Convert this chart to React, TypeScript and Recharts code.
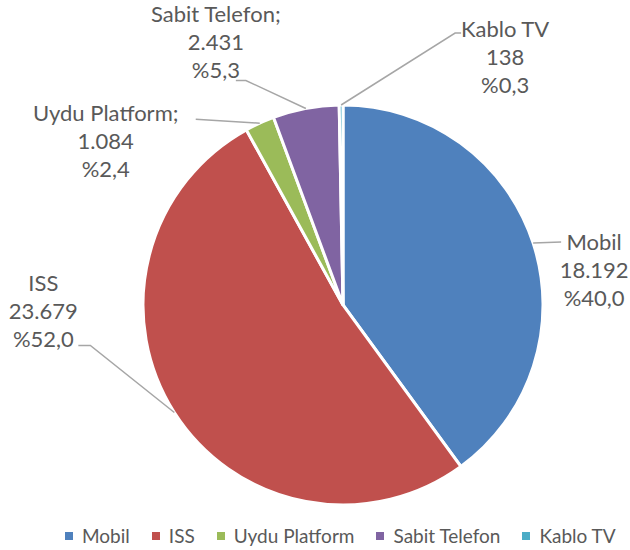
import React from 'react';
import { PieChart, Pie, Cell, Legend } from 'recharts';

const categories = ['Mobil', 'ISS', 'Uydu Platform', 'Sabit Telefon', 'Kablo TV'];
const labelNames = ['Mobil', 'ISS', 'Uydu Platform;', 'Sabit Telefon;', 'Kablo TV'];
const values = [18192, 23679, 1084, 2431, 138];
const colors = ['#4F81BD', '#C0504D', '#9BBB59', '#8064A2', '#4BACC6'];

// label layout: offsets from slice edge point (style only)
const labelLayout = [
  { tx: 61, ty: -1, leader: [[28, -1]] },
  { tx: -131, ty: -130, leader: [[-84, -67], [-96, -67]] },
  { tx: -154, ty: -11, leader: [[-64, -4]] },
  { tx: -90, ty: -95, leader: [[-60, -28], [-70, -28]] },
  { tx: 164, ty: -77, leader: [[114, -72], [120, -72]] },
];

const data = categories.map((name, i) => ({ name, value: values[i], label: labelNames[i] }));

const FONT = 'Lato, "Open Sans", sans-serif';
const TEXT = '#595959';
const RAD = Math.PI / 180;

const fmt = (v: number) => String(v).replace(/\B(?=(\d{3})+(?!\d))/g, '.');

const renderLabel = (props: any) => {
  const { cx, cy, midAngle, outerRadius, index, percent, value } = props;
  const ex = cx + outerRadius * Math.cos(-midAngle * RAD);
  const ey = cy + outerRadius * Math.sin(-midAngle * RAD);
  const lay = labelLayout[index];
  const pts = [[ex, ey], ...lay.leader.map(([dx, dy]) => [ex + dx, ey + dy])];
  const tx = ex + lay.tx;
  const ty = ey + lay.ty;
  const lines = [labelNames[index], fmt(value), '%' + (percent * 100).toFixed(1).replace('.', ',')];
  return (
    <g>
      <polyline points={pts.map((p) => p.join(',')).join(' ')} fill="none" stroke="#A6A6A6" strokeWidth={1.5} />
      {lines.map((t, k) => (
        <text key={k} x={tx} y={ty + k * 28} textAnchor="middle" dominantBaseline="central" fill={TEXT} fontSize={22} fontFamily={FONT}>
          {t}
        </text>
      ))}
    </g>
  );
};

const renderLegend = () => (
  <div style={{ display: 'flex', alignItems: 'center', justifyContent: 'flex-start', paddingLeft: 65, fontFamily: FONT, fontSize: 19, color: TEXT, whiteSpace: 'nowrap', lineHeight: '26px' }}>
    {categories.map((c, i) => (
      <div key={c} style={{ display: 'flex', alignItems: 'center', marginRight: 22, flexShrink: 0 }}>
        <span style={{ width: 8, height: 8, background: colors[i], display: 'inline-block', marginRight: 9, flexShrink: 0 }} />
        <span>{c}</span>
      </div>
    ))}
  </div>
);

export default function App() {
  return (
    <div style={{ position: 'absolute', left: 0, top: 0, background: '#fff' }}>
      <PieChart width={630} height={550} margin={{ top: 0, right: 0, bottom: 0, left: 0 }}>
        <Pie
          data={data}
          dataKey="value"
          nameKey="name"
          cx={343}
          cy={305}
          outerRadius={200}
          startAngle={90}
          endAngle={-270}
          stroke="#ffffff"
          strokeWidth={3}
          label={renderLabel}
          labelLine={false}
          isAnimationActive={false}
        >
          {data.map((d, i) => (
            <Cell key={d.name} fill={colors[i]} />
          ))}
        </Pie>
        <Legend content={renderLegend} wrapperStyle={{ left: 0, top: 523, width: 630, overflow: 'visible' }} />
      </PieChart>
    </div>
  );
}
